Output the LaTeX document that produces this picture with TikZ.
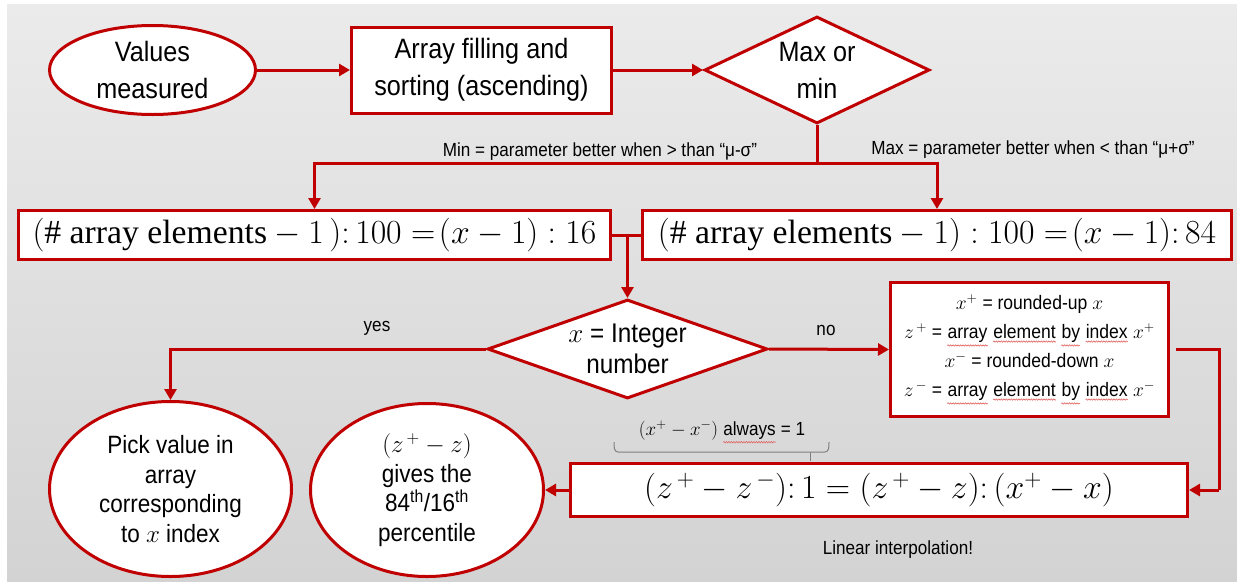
\RequirePackage{fix-cm}
\documentclass[tikz,border=0pt]{standalone}
\usepackage{fontspec}
\setmainfont{Liberation Serif}
\usetikzlibrary{shapes.geometric,arrows.meta,decorations.pathmorphing}
\newfontfamily\af[FakeStretch=0.9]{Liberation Sans}
\definecolor{rd}{HTML}{C00000}
\definecolor{bgtop}{HTML}{EBEBEB}
\definecolor{bgbot}{HTML}{D3D3D3}
\definecolor{brc}{HTML}{7F7F7F}
\definecolor{sqc}{HTML}{E05050}
\newcommand\sqw[1]{\tikz[baseline=(w.base)]{\node[inner sep=0pt] (w) {#1};
  \draw[sqc, line width=0.5pt, decorate, decoration={snake, amplitude=0.7pt, segment length=2.5pt}]
  ([yshift=-2.6pt]w.south west) -- ([yshift=-2.6pt]w.south east);}}
\tikzset{
  shp/.style={draw=rd, line width=3pt, fill=white, inner sep=0pt},
  boxn/.style={shp, rectangle},
  ell/.style={shp, ellipse},
  dia/.style={shp, diamond},
  conn/.style={draw=rd, line width=3pt},
  arr/.style={conn, -{Triangle[length=11pt,width=12pt]}},
  big/.style={font=\af\fontsize{28}{37}\selectfont, align=center, inner sep=0pt},
  mid/.style={font=\af\fontsize{25}{29.5}\selectfont, align=center, inner sep=0pt},
  intt/.style={font=\af\fontsize{27}{31}\selectfont, align=center, inner sep=0pt},
  sml/.style={font=\af\fontsize{19}{23}\selectfont, inner sep=0pt},
  lst/.style={font=\af\fontsize{19.5}{29}\selectfont, align=center, inner sep=0pt},
  frm/.style={inner sep=0pt, font=\fontsize{33.7}{38}\selectfont},
}
\begin{document}
\begin{tikzpicture}[x=1pt,y=-1pt]
\useasboundingbox (0,0) rectangle (1237,584);
\fill[white] (0,0) rectangle (1237,584);
\shade[top color=bgtop, bottom color=bgbot] (7,4) rectangle (1237,581);

% top row
\node[ell, minimum width=206pt, minimum height=89pt] (v) at (152.5,70) {};
\node[big] (vt) at (v) {Values\\measured};
\node[boxn, minimum width=260pt, minimum height=86pt] (a) at (481.5,70) {};
\node[big] (at) at (a) {Array filling and\\sorting (ascending)};
\node[dia, minimum width=225pt, minimum height=107pt] (m) at (817,70) {};
\node[big] (mt) at (m) {Max or\\min};

\draw[arr] (v.east) -- (a.west);
\draw[arr] (a.east) -- (m.west);

% branch labels
\node[sml] (minl) at (600,152) {Min = parameter better when > than “μ-σ”};
\node[sml] (maxl) at (1033,150) {Max = parameter better when < than “μ+σ”};

% formula boxes
\node[boxn, minimum width=592pt, minimum height=49pt] (lf) at (314.5,235) {};
\node[frm] (lft) at (lf) {$(\#\textrm{ array elements} - 1\,)\colon 100 =\!(x-1) : 16$};
\node[boxn, minimum width=589pt, minimum height=49pt] (rf) at (937,235) {};
\node[frm] (rft) at (rf) {$(\#\textrm{ array elements} - 1) : 100 =\!(x-1)\colon 84$};

\coordinate (split) at (817,163);
\draw[conn] (m.south) -- (split);
\draw[arr] (split) -| (lf.north);
\draw[arr] (split) -| (rf.north);

% integer decision
\coordinate (jn) at (627.5,235);
\draw[conn] (lf.east) -- (rf.west);
\node[dia, minimum width=280pt, minimum height=99pt] (d) at (627.5,349) {};
\node[intt] (dt) at (d) {$x$ = Integer\\number};
\draw[arr] (jn) -- (d.north);

\node[ell, minimum width=242pt, minimum height=175pt] (p) at (170.5,489) {};
\node[mid] (pt) at (p) {Pick value in\\array\\corresponding\\to $x$ index};
\draw[arr] (d.west) -| (p.north);
\node[sml] (yes) at (377,328) {yes};

\node[boxn, minimum width=278pt, minimum height=134pt] (b4) at (1029.5,349.5) {};
\node[lst] (b4t) at (b4) {$x^{+}$ = rounded-up $x$\\
$z^{\,+}$ = \sqw{array} \sqw{element} \sqw{by} \sqw{index} $x^{+}$\\
$x^{-}$ = rounded-down $x$\\
$z^{\,-}$ = \sqw{array} \sqw{element} \sqw{by} \sqw{index} $x^{-}$};
\draw[arr] (d.east) -- (b4.west);
\node[sml] (no) at (826,330) {no};

% interpolation
\node[boxn, minimum width=617pt, minimum height=53pt] (bf) at (879,490) {};
\node[frm] (bft) at (bf) {$(z^{\,+} - z^{\,-})\colon 1 = (z^{\,+} - z)\colon (x^{+} - x)$};
\coordinate (c1) at (1219,490);
\draw[conn] ([xshift=6pt]b4.east) -| (c1);
\draw[arr] (c1) -- (bf.east);

\node[ell, minimum width=233pt, minimum height=173pt] (g) at (427,490) {};
\node[mid] (gt) at (g) {$(z^{\,+} - z)$\\gives the\\84\textsuperscript{th}/16\textsuperscript{th}\\percentile};
\draw[arr] (bf.west) -- (g.east);

% brace
\draw[brc, line width=1pt] (614,442) to[out=-90,in=180] (618,452) -- (825,452) to[out=0,in=-90] (829,442);
\draw[brc, line width=1pt] (810,452) -- (810,461);
\node[sml] (bl) at (722,432) {$(x^{+} - x^{-})$ \sqw{always} = 1};
\node[sml] (li) at (898,550) {Linear interpolation!};
\end{tikzpicture}
\end{document}
